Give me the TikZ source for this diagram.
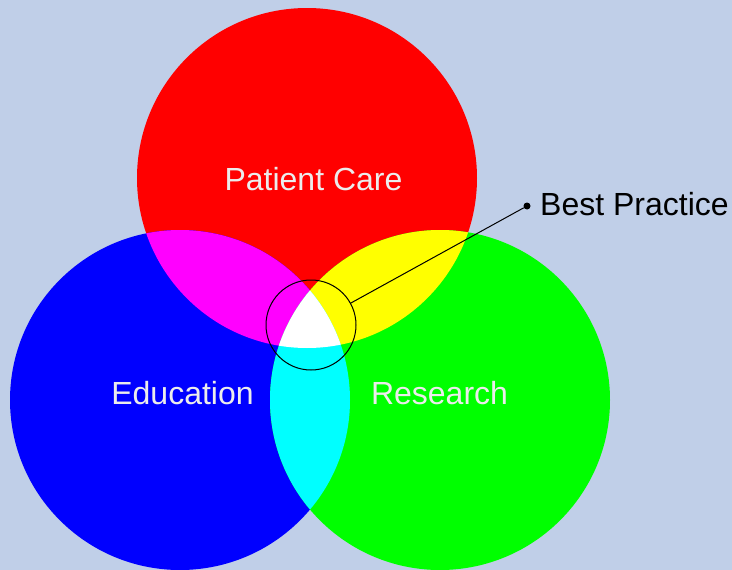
\documentclass[tikz,border=0pt]{standalone}
\usepackage{fontspec}
\setmainfont{Liberation Sans}
\definecolor{bgblue}{RGB}{192,207,232}
\definecolor{labelgray}{RGB}{236,236,236}
\definecolor{pureR}{RGB}{255,0,0}
\definecolor{pureG}{RGB}{0,255,0}
\definecolor{pureB}{RGB}{0,0,255}
\definecolor{pureM}{RGB}{255,0,255}
\definecolor{pureY}{RGB}{255,255,0}
\definecolor{pureC}{RGB}{0,255,255}
\definecolor{pureW}{RGB}{255,255,255}
\begin{document}
\begin{tikzpicture}[x=1pt,y=-1pt,
  venn/.style={radius=170pt},
  lbl/.style={anchor=base,inner sep=0pt,text=labelgray,font=\fontsize{32}{38}\selectfont},
  callout/.style={draw=black,line width=1pt,circle,minimum size=90pt,inner sep=0pt},
  pin dot/.style={fill=black,circle,minimum size=7pt,inner sep=0pt}]
  % canvas
  \fill[bgblue] (0,0) rectangle (732,570);
  \useasboundingbox (0,0) rectangle (732,570);
  % circle centres
  \coordinate (cR) at (307,178);
  \coordinate (cB) at (180,400);
  \coordinate (cG) at (440,400);
  % primary colours
  \fill[pureR] (cR) circle[venn];
  \fill[pureB] (cB) circle[venn];
  \fill[pureG] (cG) circle[venn];
  % pairwise overlaps
  \begin{scope}
    \clip (cR) circle[venn];
    \fill[pureM] (cB) circle[venn];
    \fill[pureY] (cG) circle[venn];
  \end{scope}
  \begin{scope}
    \clip (cB) circle[venn];
    \fill[pureC] (cG) circle[venn];
  \end{scope}
  % triple overlap
  \begin{scope}
    \clip (cR) circle[venn];
    \clip (cB) circle[venn];
    \fill[pureW] (cG) circle[venn];
  \end{scope}
  % labels
  \node[lbl] (care) at (313.5,190) {Patient Care};
  \node[lbl] (edu)  at (182.5,404) {Education};
  \node[lbl] (res)  at (439.5,404) {Research};
  % call-out
  \node[callout] (bp) at (311,325) {};
  \node[pin dot] (dot) at (527,206) {};
  \draw[line width=1pt] (bp) -- (dot);
  \node[anchor=base west,inner sep=0pt,font=\fontsize{32}{38}\selectfont] (bptext) at (540,215) {Best Practice};
\end{tikzpicture}
\end{document}
